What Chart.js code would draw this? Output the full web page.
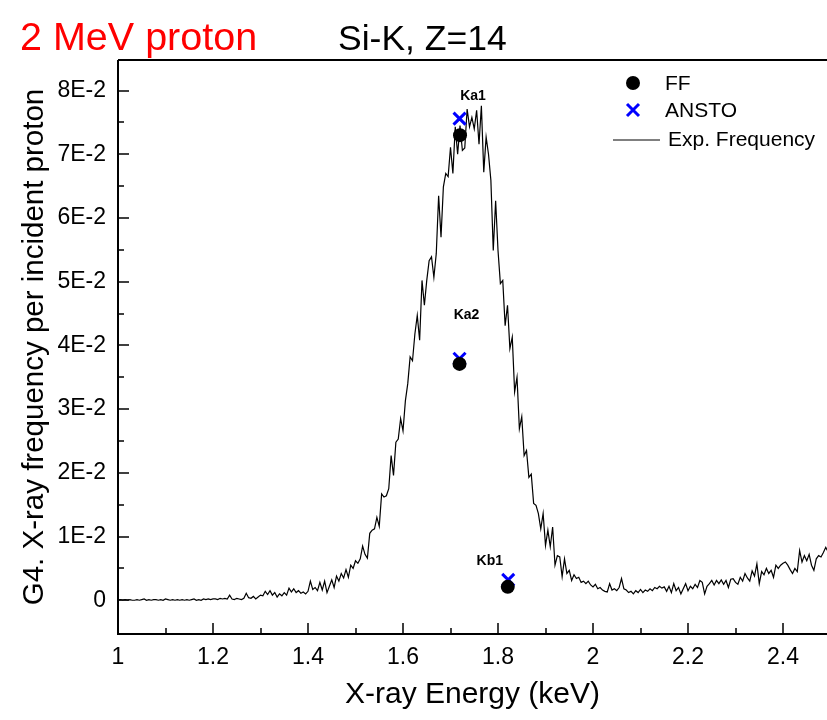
<!DOCTYPE html>
<html>
<head>
<meta charset="utf-8">
<title>Si-K, Z=14</title>
<script src="https://cdn.jsdelivr.net/npm/chart.js@4.4.1/dist/chart.umd.min.js"></script>
<style>
html, body { margin: 0; padding: 0; background: #fff; overflow: hidden; }
canvas { display: block; }
</style>
</head>
<body>
<canvas id="siChart" width="827" height="720"></canvas>
<script>
//spectrum channels run from 1.000 keV, 0.005 keV apart
var eStart = 1.0;
var eStep = 0.005;

//measured frequency, in units of 1E-2 per incident proton (one row = 0.1 keV)
var expFreq = [
    0.00,0.01,0.00,0.01,0.00,0.01,0.00,0.00,0.01,0.00, 0.01,0.02,0.00,0.01,0.00,0.01,0.01,0.00,0.01,0.00,
    0.02,0.01,0.00,0.01,0.00,0.01,0.00,0.01,0.00,0.01, 0.00,0.01,0.02,0.00,0.01,0.00,0.02,0.01,0.02,0.01,
    0.02,0.02,0.01,0.03,0.02,0.03,0.02,0.08,0.02,0.01, 0.03,0.02,0.01,0.03,0.11,0.04,0.03,0.06,0.02,0.05,
    0.08,0.07,0.14,0.09,0.15,0.08,0.12,0.05,0.10,0.07, 0.12,0.08,0.19,0.13,0.18,0.12,0.15,0.11,0.13,0.10,
    0.14,0.30,0.17,0.20,0.15,0.28,0.16,0.30,0.12,0.22, 0.32,0.20,0.38,0.30,0.42,0.35,0.48,0.36,0.55,0.50,
    0.62,0.58,0.65,0.85,0.72,0.66,1.05,1.10,1.12,1.30, 1.16,1.67,1.62,1.64,1.75,2.27,1.96,2.48,2.53,2.85,
    2.66,3.13,3.40,3.82,3.76,4.18,4.47,4.08,5.02,4.63, 5.02,5.33,5.39,5.07,5.44,6.35,5.70,6.49,6.70,6.65,
    7.11,6.70,7.43,7.00,7.45,7.06,7.10,7.71,7.43,7.58, 7.40,7.69,7.16,7.76,6.72,7.27,7.00,6.59,5.49,6.27,
    5.49,4.97,5.02,4.31,4.63,3.95,4.13,3.27,3.50,2.69, 2.88,2.27,2.35,1.93,1.98,1.52,1.49,1.36,1.12,1.36,
    0.86,1.10,0.84,1.15,0.55,0.70,0.68,0.37,0.65,0.42, 0.47,0.31,0.40,0.34,0.36,0.28,0.30,0.26,0.30,0.24,
    0.21,0.25,0.18,0.20,0.16,0.14,0.13,0.26,0.16,0.18, 0.15,0.20,0.34,0.18,0.16,0.12,0.14,0.10,0.15,0.12,
    0.17,0.12,0.16,0.14,0.18,0.15,0.20,0.18,0.22,0.19, 0.21,0.14,0.22,0.12,0.26,0.15,0.20,0.10,0.18,0.26,
    0.15,0.22,0.18,0.25,0.20,0.31,0.28,0.10,0.22,0.26, 0.31,0.24,0.31,0.26,0.32,0.25,0.31,0.20,0.33,0.34,
    0.28,0.25,0.36,0.30,0.42,0.35,0.30,0.46,0.38,0.57, 0.26,0.45,0.40,0.50,0.42,0.47,0.36,0.55,0.50,0.55,
    0.58,0.60,0.55,0.48,0.42,0.50,0.45,0.78,0.60,0.70, 0.62,0.72,0.55,0.47,0.65,0.70,0.68,0.75,0.83,0.76,
    0.80
];

//calculated lines
var lineNames = ['Ka1', 'Ka2', 'Kb1'];
var ffEnergy = [1.720, 1.719, 1.8205];
var ffFreq = [0.0730, 0.0371, 0.0021];
var anstoEnergy = [1.719, 1.719, 1.8215];
var anstoFreq = [0.0756, 0.0379, 0.0032];

//axes
var xTicks = [1, 1.2, 1.4, 1.6, 1.8, 2, 2.2, 2.4];
var xTickLabels = ['1', '1.2', '1.4', '1.6', '1.8', '2', '2.2', '2.4'];
var yTicks = [0, 0.01, 0.02, 0.03, 0.04, 0.05, 0.06, 0.07, 0.08];
var yTickLabels = ['0', '1E-2', '2E-2', '3E-2', '4E-2', '5E-2', '6E-2', '7E-2', '8E-2'];

//label offsets from the FF point, px
var labelOffsets = [[13, -39], [7, -49], [-18, -26]];

var font = '"Liberation Sans", Arial, sans-serif';

//building datasets
var expPoints = expFreq.map(function (v, i) {
    return { x: eStart + i * eStep, y: v / 100 };
});
var ffPoints = ffEnergy.map(function (e, i) {
    return { x: e, y: ffFreq[i] };
});
var anstoPoints = anstoEnergy.map(function (e, i) {
    return { x: e, y: anstoFreq[i] };
});

//frame, inward ticks, titles, legend and line labels
var decorPlugin = {
    id: 'decor',
    afterDraw: function (chart) {
        var ctx = chart.ctx;
        var area = chart.chartArea;
        var xs = chart.scales.x;
        var ys = chart.scales.y;
        ctx.save();

        //frame
        ctx.strokeStyle = '#000';
        ctx.lineWidth = 2;
        ctx.beginPath();
        ctx.moveTo(area.left, area.top);
        ctx.lineTo(area.right, area.top);
        ctx.moveTo(area.left, area.top);
        ctx.lineTo(area.left, area.bottom);
        ctx.lineTo(area.right, area.bottom);
        ctx.stroke();

        //ticks pointing in
        ctx.lineWidth = 1.5;
        ctx.beginPath();
        xTicks.forEach(function (v) {
            var px = Math.round(xs.getPixelForValue(v));
            ctx.moveTo(px, area.bottom);
            ctx.lineTo(px, area.bottom - 11);
            var mx = Math.round(xs.getPixelForValue(v + 0.1));
            if (mx < area.right) {
                ctx.moveTo(mx, area.bottom);
                ctx.lineTo(mx, area.bottom - 6);
            }
        });
        yTicks.forEach(function (v, i) {
            var py = Math.round(ys.getPixelForValue(v));
            ctx.moveTo(area.left, py);
            ctx.lineTo(area.left + 11, py);
            if (i < yTicks.length - 1) {
                var my = Math.round(ys.getPixelForValue(v + 0.005));
                ctx.moveTo(area.left, my);
                ctx.lineTo(area.left + 6, my);
            }
        });
        ctx.stroke();

        //page titles
        ctx.textBaseline = 'alphabetic';
        ctx.textAlign = 'left';
        ctx.fillStyle = '#ff0000';
        ctx.font = '39.5px ' + font;
        ctx.fillText('2 MeV proton', 20, 50);
        ctx.fillStyle = '#000';
        ctx.font = '35.5px ' + font;
        ctx.fillText('Si-K, Z=14', 338, 50);

        //axis titles
        ctx.font = '30px ' + font;
        ctx.textAlign = 'center';
        ctx.fillText('X-ray Energy (keV)', (area.left + area.right) / 2, 703);
        ctx.save();
        ctx.translate(43, (area.top + area.bottom) / 2);
        ctx.rotate(-Math.PI / 2);
        ctx.font = '29.5px ' + font;
        ctx.fillText('G4. X-ray frequency per incident proton', 0, 0);
        ctx.restore();

        //legend
        ctx.textAlign = 'left';
        ctx.textBaseline = 'middle';
        ctx.font = '21px ' + font;
        ctx.fillStyle = '#000';
        ctx.beginPath();
        ctx.arc(633, 83, 7, 0, 2 * Math.PI);
        ctx.fill();
        ctx.fillText('FF', 665, 84);
        ctx.strokeStyle = '#0000ff';
        ctx.lineWidth = 3;
        ctx.beginPath();
        ctx.moveTo(627, 104);
        ctx.lineTo(639, 116);
        ctx.moveTo(639, 104);
        ctx.lineTo(627, 116);
        ctx.stroke();
        ctx.fillText('ANSTO', 665, 111);
        ctx.strokeStyle = '#000';
        ctx.lineWidth = 1;
        ctx.beginPath();
        ctx.moveTo(613, 140);
        ctx.lineTo(660, 140);
        ctx.stroke();
        ctx.fillText('Exp. Frequency', 668, 140);

        //line labels
        ctx.font = 'bold 14px ' + font;
        ctx.textAlign = 'center';
        lineNames.forEach(function (name, i) {
            var px = xs.getPixelForValue(ffEnergy[i]) + labelOffsets[i][0];
            var py = ys.getPixelForValue(ffFreq[i]) + labelOffsets[i][1];
            ctx.fillText(name, px, py);
        });

        ctx.restore();
    }
};

var siContext = document.getElementById('siChart').getContext('2d');

var siChart = new Chart(siContext, {
    type: 'scatter',
    data: {
        datasets: [{
            label: 'FF',
            data: ffPoints,
            pointStyle: 'circle',
            pointRadius: 7,
            backgroundColor: '#000',
            borderWidth: 0,
            order: 0
        }, {
            label: 'ANSTO',
            data: anstoPoints,
            pointStyle: 'crossRot',
            pointRadius: 8.5,
            borderColor: '#0000ff',
            borderWidth: 3,
            order: 1
        }, {
            label: 'Exp. Frequency',
            data: expPoints,
            showLine: true,
            pointRadius: 0,
            borderColor: '#000',
            borderWidth: 1.2,
            tension: 0,
            order: 2
        }]
    },
    options: {
        responsive: false,
        animation: false,
        layout: {
            autoPadding: false,
            padding: { top: 60, right: 0, left: 0, bottom: 0 }
        },
        plugins: {
            legend: { display: false },
            tooltip: { enabled: false }
        },
        scales: {
            x: {
                type: 'linear',
                min: 1,
                max: 2.4926,
                afterBuildTicks: function (s) {
                    s.ticks = xTicks.map(function (v) { return { value: v }; });
                },
                afterFit: function (s) {
                    s.height = 86;
                    s.paddingLeft = 0;
                    s.paddingRight = 0;
                },
                ticks: {
                    color: '#000',
                    padding: 10,
                    maxRotation: 0,
                    font: { family: font, size: 23 },
                    callback: function (v) {
                        var i = xTicks.indexOf(v);
                        return i >= 0 ? xTickLabels[i] : '';
                    }
                },
                grid: { display: false, drawTicks: false },
                border: { display: false }
            },
            y: {
                type: 'linear',
                min: -0.0053,
                max: 0.0848,
                afterBuildTicks: function (s) {
                    s.ticks = yTicks.map(function (v) { return { value: v }; });
                },
                afterFit: function (s) {
                    s.width = 118;
                    s.paddingTop = 0;
                    s.paddingBottom = 0;
                },
                ticks: {
                    color: '#000',
                    padding: 12,
                    font: { family: font, size: 23 },
                    callback: function (v) {
                        var i = yTicks.indexOf(v);
                        return i >= 0 ? yTickLabels[i] : '';
                    }
                },
                grid: { display: false, drawTicks: false },
                border: { display: false }
            }
        }
    },
    plugins: [decorPlugin]
});
</script>
</body>
</html>
